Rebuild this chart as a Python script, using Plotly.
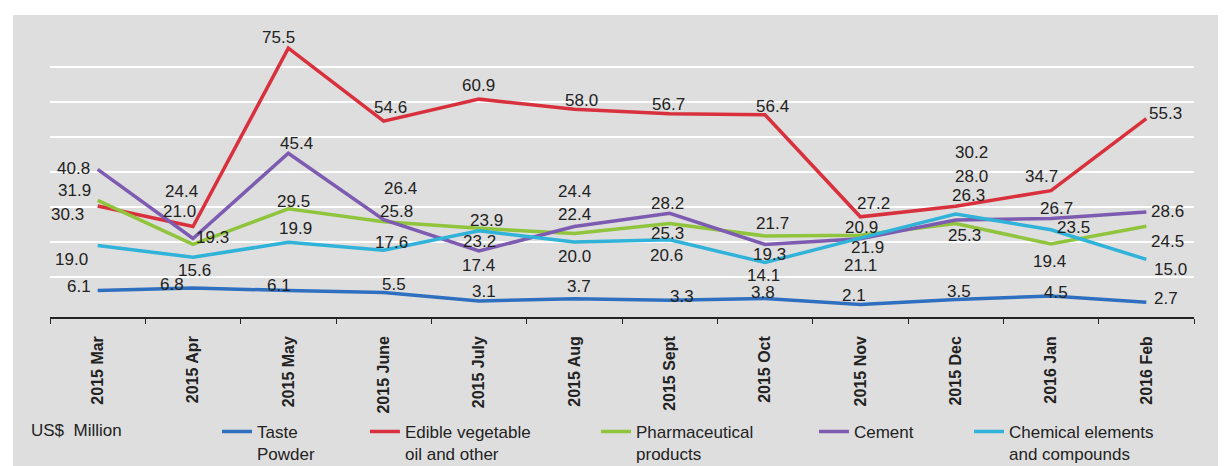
import plotly.graph_objects as go

months = ["2015 Mar", "2015 Apr", "2015 May", "2015 June", "2015 July", "2015 Aug",
          "2015 Sept", "2015 Oct", "2015 Nov", "2015 Dec", "2016 Jan", "2016 Feb"]

taste_powder = [6.1, 6.8, 6.1, 5.5, 3.1, 3.7, 3.3, 3.8, 2.1, 3.5, 4.5, 2.7]
edible_oil = [30.3, 24.4, 75.5, 54.6, 60.9, 58.0, 56.7, 56.4, 27.2, 30.2, 34.7, 55.3]
pharma = [31.9, 19.3, 29.5, 25.8, 23.9, 22.4, 25.3, 21.7, 21.9, 25.3, 19.4, 24.5]
cement = [40.8, 21.0, 45.4, 26.4, 17.4, 24.4, 28.2, 19.3, 20.9, 26.3, 26.7, 28.6]
chemical = [19.0, 15.6, 19.9, 17.6, 23.2, 20.0, 20.6, 14.1, 21.1, 28.0, 23.5, 15.0]

series_names = ["Taste<br>Powder", "Edible vegetable<br>oil and other", "Pharmaceutical<br>products",
                "Cement", "Chemical elements<br>and compounds"]
series_values = [taste_powder, edible_oil, pharma, cement, chemical]
series_colors = ["#2f6fc0", "#d8313d", "#90c43c", "#7c5bb0", "#30b2d9"]

# label offsets in pixels (dx, dy up) per series per month -- styling only
label_offsets = [
    [(-19, 4), (-21, 4), (-9, 5), (10, 8), (5, 9), (5, 12), (12, 4), (-2, 6), (-6, 9), (3, 8), (5, 4), (20, 4)],
    [(-30, -9), (-12, 35), (-10, 11), (7, 14), (-1, 14), (7, 9), (-1, 9), (7, 8), (13, 13), (16, 54), (-10, 14), (19, 5)],
    [(-23, 10), (19, 7), (5, 7), (13, 10), (7, 8), (0, 19), (-2, -10), (7, 13), (7, -12), (9, -12), (-2, -17), (21, -15)],
    [(-24, 1), (-14, 27), (8, 10), (17, 31), (-1, -14), (0, 35), (-2, 10), (4, -10), (1, 11), (13, 24), (5, 10), (21, 0)],
    [(-26, -14), (1, -13), (7, 14), (8, 8), (0, -11), (0, -15), (-3, -16), (-2, -13), (0, -27), (16, 38), (22, 2), (24, -10)],
]

legend_x = [0.146, 0.2753, 0.4773, 0.6678, 0.8033]
legend_ids = ["legend", "legend2", "legend3", "legend4", "legend5"]

FONT = "Arial, Liberation Sans"

fig = go.Figure()
annotations = []
for name, vals, col, offs, lid in zip(series_names, series_values, series_colors, label_offsets, legend_ids):
    fig.add_trace(go.Scatter(x=months, y=vals, mode="lines", name=name,
                             line=dict(color=col, width=3.5), legend=lid))
    for m, v, (dx, dy) in zip(months, vals, offs):
        annotations.append(dict(x=m, y=v, xref="x", yref="y", text=f"{v:.1f}", showarrow=False,
                                xshift=dx, yshift=dy,
                                font=dict(size=17, color="#222222", family=FONT)))

annotations.append(dict(x=-0.018, y=-0.377, xref="paper", yref="paper", text="US$  Million",
                        showarrow=False, xanchor="left", yanchor="middle",
                        font=dict(size=17, color="#222222", family=FONT)))

layout_legends = {}
for lid, lx in zip(legend_ids, legend_x):
    layout_legends[lid] = dict(x=lx, y=-0.321, xanchor="left", yanchor="top", orientation="h",
                               bgcolor="rgba(0,0,0,0)", valign="top",
                               font=dict(size=17, color="#222222", family=FONT))

# page body has an 8px margin, so the figure is sized/offset to land on the 1226x466 frame
fig.update_layout(
    width=1218, height=458,
    margin=dict(l=42, r=32, t=7, b=149, autoexpand=False),
    paper_bgcolor="#dedede", plot_bgcolor="#dedede",
    showlegend=True,
    annotations=annotations,
    shapes=[
        dict(type="rect", xref="paper", yref="paper", x0=-0.05, x1=1.05, y0=1.0, y1=1.05,
             fillcolor="white", line=dict(width=0), layer="below"),
        dict(type="rect", xref="paper", yref="paper", x0=-0.05, x1=-0.0323, y0=-0.6, y1=1.05,
             fillcolor="white", line=dict(width=0), layer="below"),
    ],
    **layout_legends,
)

fig.update_xaxes(type="category", range=[-0.5, 11.5], showgrid=False, showline=True,
                 linecolor="#222222", linewidth=1.5, ticks="outside", tickson="boundaries",
                 ticklen=5, tickcolor="#222222", tickangle=-90, ticklabelstandoff=11,
                 tickfont=dict(size=16, color="#222222", family=FONT),
                 tickprefix="<b>", ticksuffix="</b>")
fig.update_yaxes(range=[-1.5, 85], tickvals=[10, 20, 30, 40, 50, 60, 70], showticklabels=False,
                 showgrid=True, gridcolor="white", gridwidth=2, zeroline=False, showline=False)

fig.write_html("out.html")
